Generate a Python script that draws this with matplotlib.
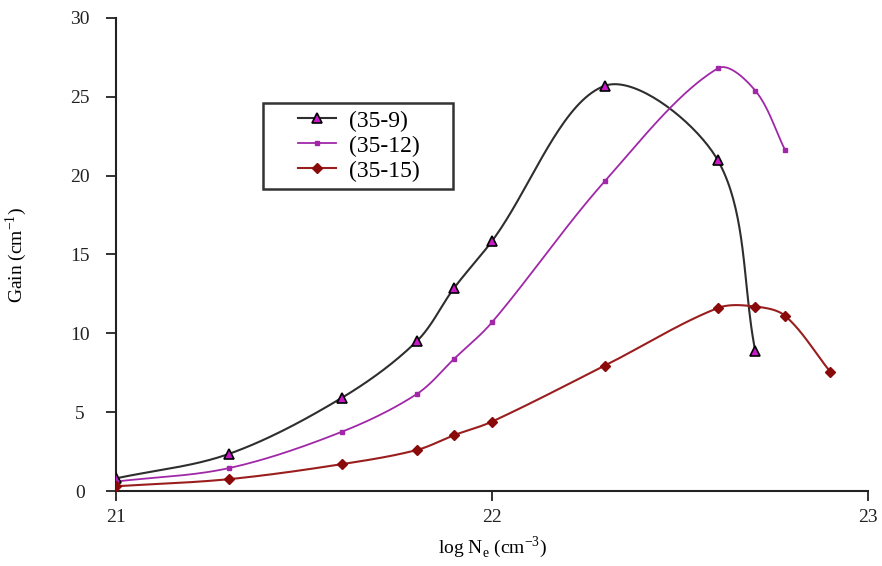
import numpy as np
import matplotlib
matplotlib.use("Agg")
import matplotlib.pyplot as plt
from matplotlib.lines import Line2D
from matplotlib.legend_handler import HandlerLine2D

plt.rcParams['font.family'] = ['Liberation Serif', 'DejaVu Serif']
plt.rcParams['mathtext.fontset'] = 'custom'
plt.rcParams['mathtext.rm'] = 'Liberation Serif'

x_9 = [21.0, 21.3, 21.6, 21.8, 21.9, 22.0, 22.3, 22.6, 22.7]
g_9 = [0.8, 2.35, 5.9, 9.5, 12.9, 15.85, 25.7, 21.0, 8.9]

x_12 = [21.0, 21.3, 21.6, 21.8, 21.9, 22.0, 22.3, 22.6, 22.7, 22.78]
g_12 = [0.6, 1.45, 3.75, 6.15, 8.4, 10.7, 19.65, 26.8, 25.4, 21.6]

x_15 = [21.0, 21.3, 21.6, 21.8, 21.9, 22.0, 22.3, 22.6, 22.7, 22.78, 22.9]
g_15 = [0.3, 0.75, 1.7, 2.6, 3.55, 4.4, 7.95, 11.6, 11.7, 11.1, 7.55]

labels = ['(35-9)', '(35-12)', '(35-15)']
x_ticks = [21, 22, 23]
y_ticks = [0, 5, 10, 15, 20, 25, 30]


def smooth(xs, ys, ax, n=40):
    # Excel-like smoothed line: chord-length Bezier spline in display space
    pts = ax.transData.transform(np.column_stack([xs, ys]))
    N = len(pts)
    d = np.linalg.norm(np.diff(pts, axis=0), axis=1)
    tang = np.zeros_like(pts)
    for i in range(N):
        if i == 0:
            tang[i] = (pts[1] - pts[0]) / d[0]
        elif i == N - 1:
            tang[i] = (pts[-1] - pts[-2]) / d[-1]
        else:
            tang[i] = (pts[i + 1] - pts[i - 1]) / (d[i - 1] + d[i])
    out = []
    t = np.linspace(0, 1, n)[:, None]
    for i in range(N - 1):
        p1, p2 = pts[i], pts[i + 1]
        c1 = p1 + tang[i] * d[i] / 3.0
        c2 = p2 - tang[i + 1] * d[i] / 3.0
        seg = ((1 - t) ** 3) * p1 + 3 * ((1 - t) ** 2) * t * c1 + 3 * (1 - t) * t ** 2 * c2 + t ** 3 * p2
        out.append(seg if i == 0 else seg[1:])
    out = np.vstack(out)
    return ax.transData.inverted().transform(out).T


fig = plt.figure(figsize=(8.82, 5.66), dpi=100)
ax = fig.add_axes([116 / 882, 1 - 491 / 566, (868 - 116) / 882, (491 - 18) / 566])
ax.set_xlim(21, 23)
ax.set_ylim(0, 30)
fig.canvas.draw()

c9, c12, c15 = '#2e2e2e', '#a028a8', '#9a1e1e'
m9 = dict(marker='^', ms=7, mfc='#c818c8', mec='black', mew=1.2)
m12 = dict(marker='s', ms=3.5, mfc=c12, mec=c12)
m15 = dict(marker='D', ms=5.5, mfc='#8a0a0a', mec='#8a0a0a')

sx, sy = smooth(x_9, g_9, ax)
ax.plot(sx, sy, color=c9, lw=1.5, zorder=3)
ax.plot(x_9, g_9, ls='none', zorder=4, **m9)

sx, sy = smooth(x_12, g_12, ax)
ax.plot(sx, sy, color=c12, lw=1.3, zorder=3)
ax.plot(x_12, g_12, ls='none', zorder=4, **m12)

sx, sy = smooth(x_15, g_15, ax)
ax.plot(sx, sy, color=c15, lw=1.5, zorder=3)
ax.plot(x_15, g_15, ls='none', zorder=4, **m15)

for s in ['top', 'right']:
    ax.spines[s].set_visible(False)
for s in ['left', 'bottom']:
    ax.spines[s].set_linewidth(1.5)
    ax.spines[s].set_color('#222222')
ax.set_xticks(x_ticks)
ax.set_yticks(y_ticks)
ax.tick_params(direction='out', length=7, width=1.3, labelsize=14, colors='#222222', pad=6)
ax.tick_params(axis='y', pad=19)
for lab in ax.get_yticklabels():
    lab.set_horizontalalignment('center')

ax.set_xlabel(r'log N$_\mathregular{e}$ (cm$^{-3}$)', fontsize=14, labelpad=6)
ax.set_ylabel(r'Gain (cm$^{-1}$)', fontsize=14)
ax.yaxis.set_label_coords((29 - 116) / 752, 0.5)

handles = [
    Line2D([], [], color=c9, lw=1.5, **m9),
    Line2D([], [], color=c12, lw=1.3, **m12),
    Line2D([], [], color=c15, lw=1.5, **m15),
]
fs = 17
x0 = (263 - 116) / 752
w = (453 - 263) / 752
y1 = (491 - 103) / 473
h = (190 - 103) / 473
leg = ax.legend(handles, labels, loc='upper left', bbox_to_anchor=(x0, y1 - h, w, h), mode='expand',
                fontsize=fs, frameon=True, fancybox=False, edgecolor='black',
                handlelength=2.8, borderpad=0.3, labelspacing=0.15, handletextpad=0.55,
                borderaxespad=0, handler_map={Line2D: HandlerLine2D(xpad=1.2)})
leg.get_frame().set_linewidth(1.8)

fig.savefig('out.png', dpi=100)
